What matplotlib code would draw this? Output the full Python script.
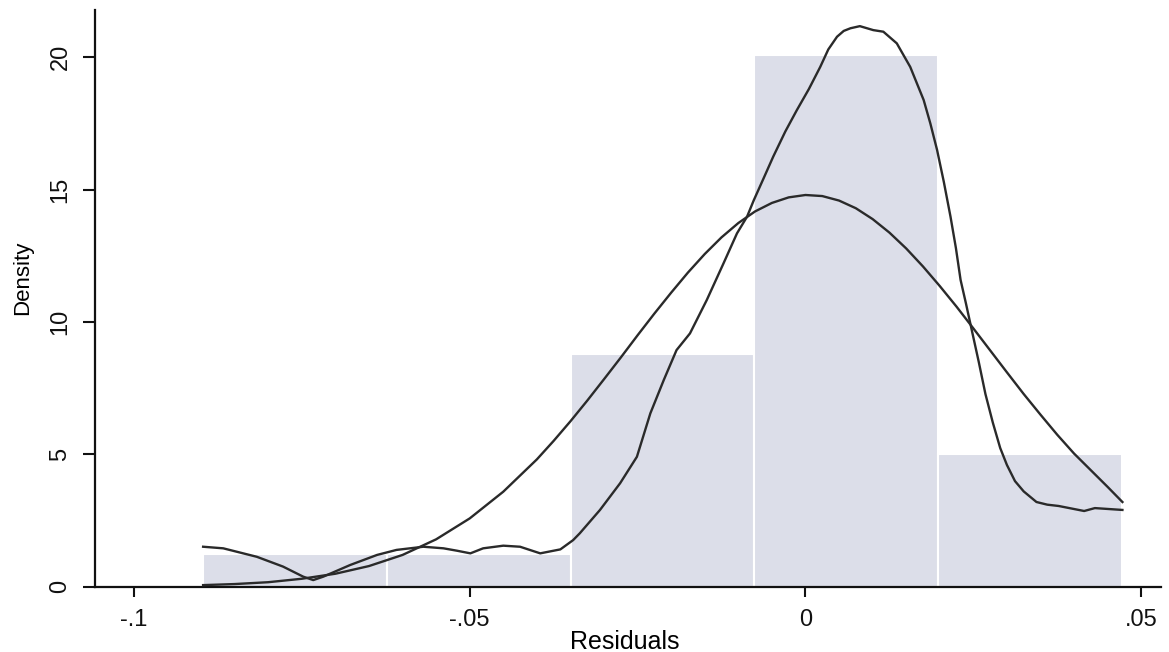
import numpy as np
import matplotlib.pyplot as plt

plt.rcParams['font.family'] = ['Liberation Sans', 'DejaVu Sans']

# histogram (density scale), bin edges
bin_edges = [-0.0897, -0.0623, -0.0349, -0.0076, 0.0198, 0.0472]
bar_heights = [1.24, 1.24, 8.81, 20.1, 5.0]

# kernel density curve
kde_x = [-0.0897, -0.0867, -0.0817, -0.0778, -0.0748, -0.0733, -0.0718, -0.0678,
         -0.0638, -0.0609, -0.0569, -0.0539, -0.0519, -0.0499, -0.0480, -0.0450,
         -0.0425, -0.0395, -0.0365, -0.0346, -0.0336, -0.0306, -0.0276, -0.0251,
         -0.0231, -0.0211, -0.0192, -0.0172, -0.0147, -0.0122, -0.0102, -0.0087,
         -0.0077, -0.0062, -0.0048, -0.0030, -0.0013, 0.0005, 0.0022, 0.0034,
         0.0047, 0.0057, 0.0067, 0.0081, 0.0101, 0.0116, 0.0136, 0.0156,
         0.0176, 0.0186, 0.0196, 0.0206, 0.0216, 0.0224, 0.0231, 0.0239,
         0.0247, 0.0258, 0.0268, 0.0279, 0.0290, 0.0300, 0.0312, 0.0325,
         0.0344, 0.0360, 0.0377, 0.0415, 0.0431, 0.0472]
kde_y = [1.51, 1.45, 1.13, 0.76, 0.38, 0.25, 0.38, 0.82,
         1.20, 1.39, 1.51, 1.45, 1.36, 1.26, 1.45, 1.55,
         1.51, 1.26, 1.41, 1.76, 2.02, 2.90, 3.91, 4.91,
         6.55, 7.81, 8.94, 9.57, 10.83, 12.22, 13.35, 13.98,
         14.60, 15.45, 16.25, 17.20, 18.00, 18.80, 19.64, 20.30,
         20.78, 21.00, 21.10, 21.18, 21.03, 20.97, 20.53, 19.64,
         18.39, 17.50, 16.50, 15.30, 13.98, 12.80, 11.59, 10.70,
         9.77, 8.50, 7.28, 6.20, 5.24, 4.60, 3.99, 3.60,
         3.20, 3.10, 3.05, 2.86, 2.97, 2.90]

# normal density overlay
norm_x = [-0.0897, -0.085, -0.080, -0.075, -0.070, -0.065, -0.060, -0.055,
          -0.050, -0.045, -0.040, -0.0375, -0.035, -0.0325, -0.030, -0.0275,
          -0.025, -0.0225, -0.020, -0.0175, -0.015, -0.0125, -0.010, -0.0075,
          -0.005, -0.0025, 0.000, 0.0025, 0.005, 0.0075, 0.010, 0.0125,
          0.015, 0.0175, 0.020, 0.0225, 0.025, 0.0275, 0.030, 0.0325,
          0.035, 0.0375, 0.040, 0.045, 0.0472]
norm_y = [0.06, 0.10, 0.17, 0.30, 0.49, 0.78, 1.20, 1.79,
          2.58, 3.59, 4.81, 5.51, 6.25, 7.03, 7.84, 8.66,
          9.50, 10.32, 11.11, 11.87, 12.57, 13.20, 13.74, 14.18,
          14.50, 14.71, 14.80, 14.76, 14.59, 14.30, 13.89, 13.38,
          12.78, 12.10, 11.36, 10.58, 9.76, 8.93, 8.10, 7.28,
          6.50, 5.74, 5.03, 3.77, 3.20]

xticks = [-0.1, -0.05, 0, 0.05]
xtick_labels = ['-.1', '-.05', '0', '.05']
yticks = [0, 5, 10, 15, 20]

W, H = 1169, 652
fig = plt.figure(figsize=(W / 100, H / 100), dpi=100)
# axes box in pixels: left 95, right 1161, bottom 587, top 10
ax = fig.add_axes([95 / W, 1 - 586.7 / H, (1160.7 - 95) / W, (586.7 - 10) / H])

ax.bar(bin_edges[:-1], bar_heights, width=np.diff(bin_edges), align='edge',
       color='#dcdee9', edgecolor='white', linewidth=1.5, zorder=1)
ax.plot(norm_x, norm_y, color='#2a2a2a', lw=1.7, zorder=3)
ax.plot(kde_x, kde_y, color='#2a2a2a', lw=1.7, zorder=3)

ax.set_xlim(-0.1058, 0.0529)
ax.set_ylim(0, 21.79)
ax.set_xticks(xticks)
ax.set_xticklabels(xtick_labels)
ax.set_yticks(yticks)

for s in ['top', 'right']:
    ax.spines[s].set_visible(False)
for s in ['left', 'bottom']:
    ax.spines[s].set_linewidth(1.6)
    ax.spines[s].set_color('#111111')

ax.tick_params(axis='x', length=7, width=1.5, pad=9, labelsize=17, colors='#111111')
ax.tick_params(axis='y', length=9, width=1.5, pad=8, labelsize=17, colors='#111111',
               labelrotation=90)
for lab in ax.get_yticklabels():
    lab.set_va('center')

ax.set_xlabel('Residuals', fontsize=18)
ax.xaxis.set_label_coords((625 - 95) / 1065.7, (586.7 - 630) / 576.7)
ax.set_ylabel('Density', fontsize=16)
ax.yaxis.set_label_coords((33 - 95) / 1065.7, (586.7 - 278) / 576.7)

fig.savefig('out.png', dpi=100)
